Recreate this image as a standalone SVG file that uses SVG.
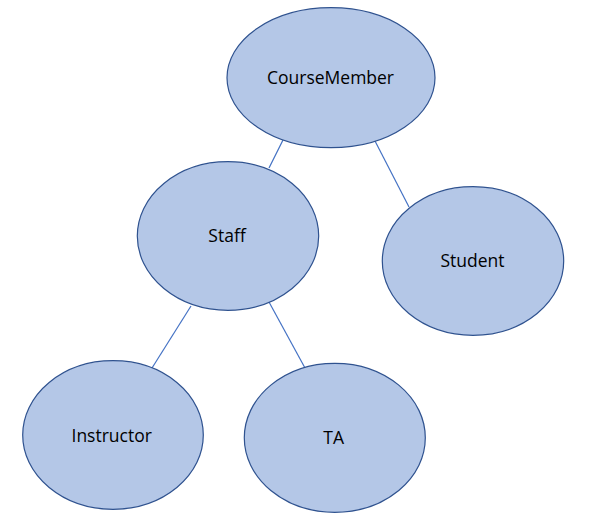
<svg xmlns="http://www.w3.org/2000/svg" width="597" height="516" viewBox="0 0 597 516">
<style>
.node ellipse{fill:#B4C7E7;stroke:#2F528F;stroke-width:1.2}
.node text{font-family:"Open Sans","Liberation Sans",sans-serif;font-size:17.5px;fill:#000;text-anchor:middle}
#connectors line{stroke:#4472C4;stroke-width:1.2}
</style>
<rect width="597" height="516" fill="#fff"/>
<g id="connectors">
<line x1="283" y1="140" x2="269" y2="168"/>
<line x1="375" y1="141" x2="409" y2="207"/>
<line x1="191" y1="306" x2="152" y2="368"/>
<line x1="269" y1="302" x2="305" y2="368"/>
</g>
<g id="coursemember" class="node"><ellipse cx="331" cy="77.7" rx="104" ry="70"/><text x="330.5" y="84">CourseMember</text></g>
<g id="staff" class="node"><ellipse cx="228" cy="236" rx="90.7" ry="74.3"/><text x="227" y="242.3">Staff</text></g>
<g id="student" class="node"><ellipse cx="473" cy="261" rx="90.7" ry="74.3"/><text x="472.5" y="266.7">Student</text></g>
<g id="instructor" class="node"><ellipse cx="113" cy="435" rx="90.3" ry="74.3"/><text x="111.7" y="441.7">Instructor</text></g>
<g id="ta" class="node"><ellipse cx="334.8" cy="437.8" rx="90.5" ry="74.5"/><text x="333.7" y="444">TA</text></g>
</svg>
